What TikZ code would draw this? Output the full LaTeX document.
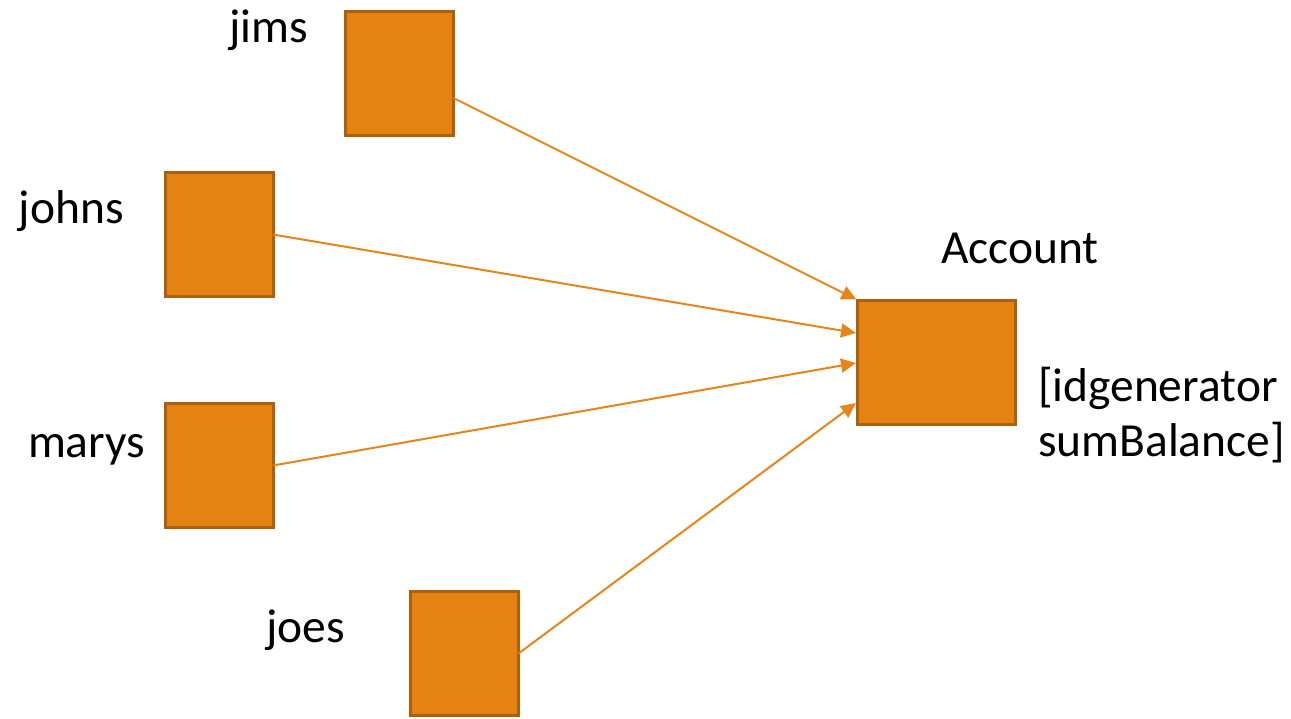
\documentclass[tikz,border=0pt]{standalone}
\usepackage{fontspec}
\setmainfont{Carlito}
\usetikzlibrary{arrows.meta,calc}
\definecolor{boxfill}{RGB}{228,131,18}
\definecolor{boxline}{RGB}{172,96,14}
\definecolor{arrowc}{RGB}{230,133,26}
\tikzset{
  obj/.style={draw=boxline,fill=boxfill,line width=3pt,inner sep=0pt,outer sep=0pt,minimum width=108pt,minimum height=124pt},
  lbl/.style={anchor=base west,inner sep=0pt,outer sep=0pt,font=\fontsize{47.5}{55}\selectfont},
  conn/.style={draw=arrowc,line width=2pt,-{Triangle[length=15pt,width=14pt]}}
}
\begin{document}
\begin{tikzpicture}[x=1pt,y=-1pt]
\useasboundingbox (0,0) rectangle (1291,718);
\node[obj] (jims) at (399.5,73.5) {};
\node[obj] (johns) at (219,234.5) {};
\node[obj] (marys) at (219,465.5) {};
\node[obj] (joes) at (464.5,653.5) {};
\node[obj,minimum width=158pt] (acc) at (936.5,362.5) {};
\node[lbl] (tjims) at (229,42) {jims};
\node[lbl] (tjohns) at (19,223) {johns};
\node[lbl] (tmarys) at (28,457) {marys};
\node[lbl] (tjoes) at (266,642) {joes};
\node[lbl] (tacc) at (941,263) {Account};
\node[lbl,align=left,anchor=north west] (tattr) at (1038,367) {[idgenerator\\sumBalance]};
\draw[conn] ($(jims.east)+(0,24.5)$) -- ($(acc.north west)+(-1,-1)$);
\draw[conn] (johns.east) -- ($(acc.west)+(-1.5,-29.5)$);
\draw[conn] (marys.east) -- ($(acc.west)+(-1.5,0.5)$);
\draw[conn] (joes.east) -- ($(acc.west)+(-1.5,40.5)$);
\end{tikzpicture}
\end{document}
